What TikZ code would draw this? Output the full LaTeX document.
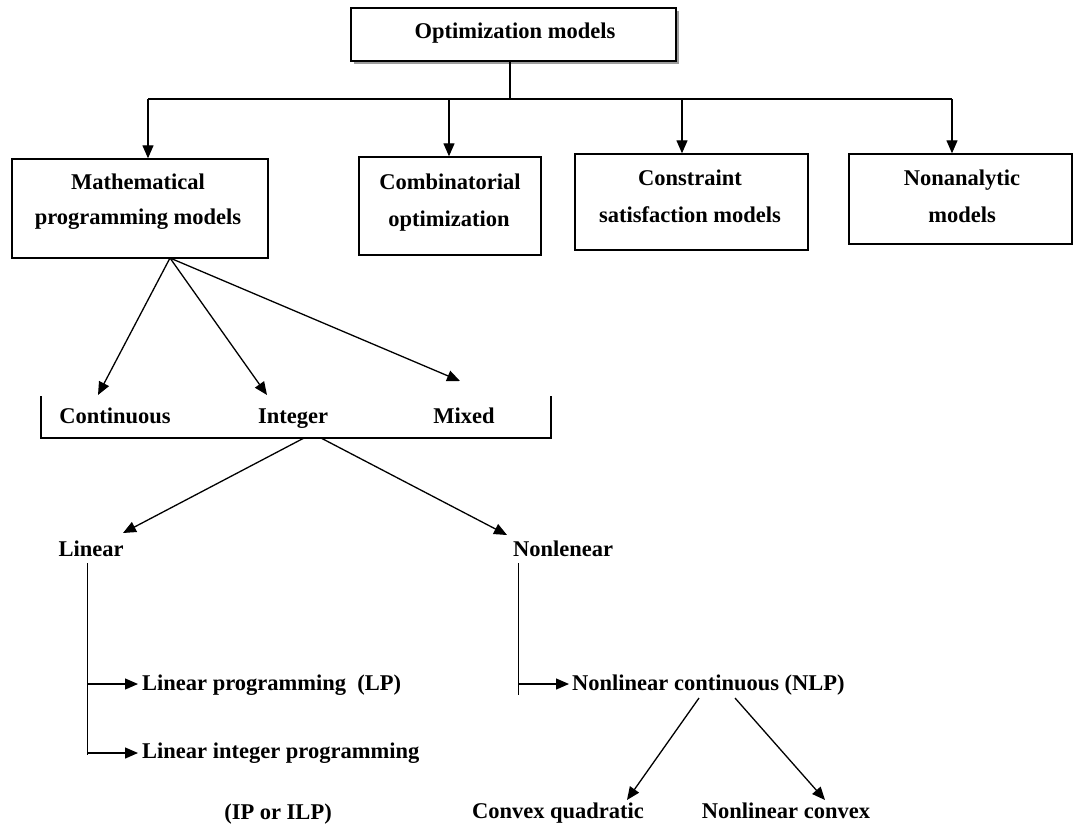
\documentclass[tikz,border=0pt]{standalone}
\usepackage{fontspec}
\setmainfont{Liberation Serif}
\usetikzlibrary{arrows.meta,shadows}
\begin{document}
\begin{tikzpicture}[x=1pt,y=-1pt,
  box/.style={draw, line width=1.4pt, fill=white, inner sep=0pt},
  shadowed/.style={drop shadow={shadow xshift=3pt, shadow yshift=-3pt, fill=black!55, opacity=0.7}},
  lbl/.style={inner sep=0pt, anchor=base, font=\fontsize{22.5}{26}\selectfont\bfseries},
  lblw/.style={lbl, anchor=base west},
  ln/.style={line width=1.3pt},
  arr/.style={ln, -{Triangle[length=13pt,width=11pt]}}
]
\useasboundingbox[fill=white] (0,0) rectangle (1074,828);

% top-level boxes
\node[box, shadowed, minimum width=325pt, minimum height=53pt] (opt) at (513.5,34.5) {};
\node[box, minimum width=256pt, minimum height=99pt] (math) at (140,208.5) {};
\node[box, minimum width=182pt, minimum height=98pt] (comb) at (450,206) {};
\node[box, minimum width=233pt, minimum height=96pt] (cons) at (691.5,202) {};
\node[box, minimum width=223pt, minimum height=90pt] (nona) at (960.5,199) {};

% box captions
\node[lbl] (toptxt) at (515,38) {Optimization models};
\node[lbl] (math1) at (138,189) {Mathematical};
\node[lbl] (math2) at (138,224) {programming models};
\node[lbl] (comb1) at (450,189) {Combinatorial};
\node[lbl] (comb2) at (449,226) {optimization};
\node[lbl] (cons1) at (690,185) {Constraint};
\node[lbl] (cons2) at (690,222) {satisfaction models};
\node[lbl] (nona1) at (962,185) {Nonanalytic};
\node[lbl] (nona2) at (962,222) {models};

% bus from the top box to the four categories
\coordinate (bus) at (510,99);
\coordinate (bm) at (148,99);
\coordinate (bc) at (449,99);
\coordinate (bs) at (682,99);
\coordinate (bn) at (952,99);
\draw[ln] (bus |- opt.south) -- (bus);
\draw[ln] (bm) -- (bn);
\draw[arr] (bm) -- (bm |- math.north);
\draw[arr] (bc) -- (bc |- comb.north);
\draw[arr] (bs) -- (bs |- cons.north);
\draw[arr] (bn) -- (bn |- nona.north);

% variable types
\node[lbl] (cont) at (115,423) {Continuous};
\node[lbl] (intg) at (293,423) {Integer};
\node[lbl] (mixd) at (464,423) {Mixed};
\coordinate (brTL) at (41,396);
\coordinate (brBL) at (41,438);
\coordinate (brBR) at (551,438);
\coordinate (brTR) at (551,396);
\draw[ln] (brTL) -- (brBL) -- (brBR) -- (brTR);

\coordinate (mp) at (170,258);
\coordinate (tc) at (98,395);
\coordinate (ti) at (267,395);
\coordinate (tm) at (460,381);
\draw[arr] (mp) -- (tc);
\draw[arr] (mp) -- (ti);
\draw[arr] (mp) -- (tm);

% linear / nonlinear split
\node[lbl] (lin) at (91,556) {Linear};
\node[lbl] (nlin) at (563,556) {Nonlenear};
\coordinate (sl) at (304,438);
\coordinate (sn) at (321,438);
\coordinate (tl) at (123,533);
\coordinate (tn) at (507,535);
\draw[arr] (sl) -- (tl);
\draw[arr] (sn) -- (tn);

% linear branch
\node[lblw] (lp) at (142,690) {Linear programming\ \ (LP)};
\node[lblw] (lip) at (142,758) {Linear integer programming};
\node[lbl] (ilp) at (278,819) {(IP or ILP)};
\coordinate (lv1) at (87,563);
\coordinate (lv2) at (87,755);
\coordinate (la1) at (87,684);
\coordinate (la2) at (87,753);
\draw[ln, line width=1pt] (lv1) -- (lv2);
\draw[arr, shorten >=4pt] (la1) -- (lp.west |- la1);
\draw[arr, shorten >=4pt] (la2) -- (lip.west |- la2);

% nonlinear branch
\node[lblw] (nlp) at (572,690) {Nonlinear continuous (NLP)};
\coordinate (nv1) at (518,563);
\coordinate (nv2) at (518,695);
\coordinate (na1) at (518,684);
\draw[ln, line width=1pt] (nv1) -- (nv2);
\draw[arr, shorten >=3pt] (na1) -- (nlp.west |- na1);

\node[lbl] (cq) at (558,818) {Convex quadratic};
\node[lbl] (nc) at (786,818) {Nonlinear convex};
\coordinate (s1) at (699,698);
\coordinate (s2) at (735,698);
\coordinate (t1) at (627,800);
\coordinate (t2) at (825,800);
\draw[arr] (s1) -- (t1);
\draw[arr] (s2) -- (t2);
\end{tikzpicture}
\end{document}
